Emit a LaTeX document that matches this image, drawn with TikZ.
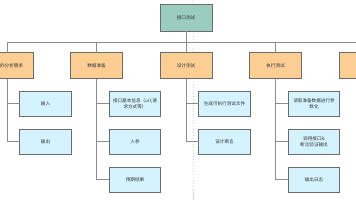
\documentclass[tikz,border=0pt]{standalone}
\usepackage{fontspec}
\newfontfamily\cjk{Noto Sans CJK SC}
\usetikzlibrary{calc}
\definecolor{TreeRoot}{RGB}{154,205,192}
\definecolor{TreeStage}{RGB}{253,206,148}
\definecolor{TreeLeaf}{RGB}{212,243,255}
\definecolor{TreeBorder}{gray}{0.42}
\definecolor{TreeLink}{gray}{0.55}
\definecolor{TreeGuide}{gray}{0.82}
\tikzset{
    tree/diagram/.style={
        font=\cjk\fontsize{4.6}{5.8}\selectfont,
        text=black!80,
        line join=miter,
        every node/.style={inner sep=1pt, outer sep=0pt}
    },
    tree/box/.style={
        draw=TreeBorder, line width=0.6pt, align=center,
        minimum width=52pt, minimum height=26pt
    },
    tree/root/.style={tree/box, fill=TreeRoot, minimum height=27pt},
    tree/stage/.style={tree/box, fill=TreeStage},
    tree/leaf/.style={tree/box, fill=TreeLeaf, minimum width=51.5pt, minimum height=25.5pt},
    tree/link/.style={draw=TreeLink, line width=0.75pt},
    tree/guide/.style={draw=TreeGuide, line width=0.4pt, dash pattern=on 1.5pt off 1.5pt}
}
\begin{document}
\begin{tikzpicture}[tree/diagram, x=1pt, y=-1pt]
    \useasboundingbox (0,0) rectangle (356,200);
    \fill[white] (0,0) rectangle (356,200);
    \draw[tree/guide] (193,0) -- (193,200);

    % root and stages
    \node[tree/root] (root) at (186,17.5) {接口测试};
    \coordinate (bus) at (186,42);
    \node[tree/stage] (need) at (7,65.7) {接口的分析需求};
    \node[tree/stage] (data) at (96.5,65.7) {数据准备};
    \node[tree/stage] (design) at (186,65.7) {设计测试};
    \node[tree/stage] (run) at (275.5,65.7) {执行测试};
    \node[tree/stage] (report) at (365,65.7) {测试报告};

    % leaves
    \node[tree/leaf] (need1) at (45.5,103.8) {输入};
    \node[tree/leaf] (need2) at (45.5,141.7) {输出};
    \node[tree/leaf] (data1) at (135,103.8) {接口基本信息（url,请\\求方式等）};
    \node[tree/leaf] (data2) at (135,141.7) {入参};
    \node[tree/leaf] (data3) at (135,179.8) {预期结果};
    \node[tree/leaf] (design1) at (224.5,103.8) {生成可执行测试文件};
    \node[tree/leaf] (design2) at (224.5,141.7) {设计断言};
    \node[tree/leaf] (run1) at (314,103.8) {读取准备数据进行参\\数化};
    \node[tree/leaf] (run2) at (314,141.7) {调用接口\&\\断言验证输出};
    \node[tree/leaf] (run3) at (314,179.8) {输出日志};

    % links
    \draw[tree/link] (root.south) -- (bus);
    \draw[tree/link] (need.north) -- (need.north |- bus) -- (report.north |- bus) -- (report.north);
    \foreach \s in {data,design,run}
        \draw[tree/link] (\s.north) -- (\s.north |- bus);
    \foreach \s/\l in {need/need1,need/need2,data/data1,data/data2,data/data3,
                       design/design1,design/design2,run/run1,run/run2,run/run3}
        \draw[tree/link] (\s.south) |- (\l.west);
\end{tikzpicture}
\end{document}
